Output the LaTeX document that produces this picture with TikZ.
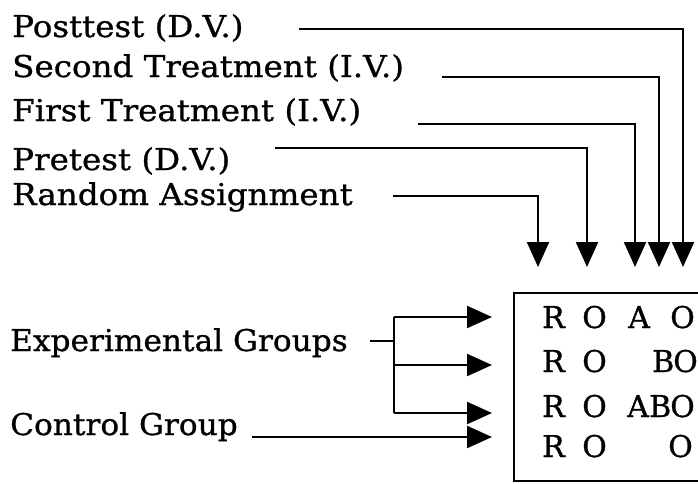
\documentclass[tikz,border=0pt]{standalone}
\usepackage{fontspec}
\setmainfont{DejaVu Serif}
\newfontfamily\lblfont[FakeStretch=1.085,FakeBold=0.9]{DejaVu Serif}
\newfontfamily\grpfont[FakeStretch=1.04,FakeBold=0.9]{DejaVu Serif}
\newfontfamily\cellfont[FakeBold=0.9]{DejaVu Serif}
\usetikzlibrary{arrows.meta}
\begin{document}
\begin{tikzpicture}[x=1pt,y=-1pt,
  lbl/.style={anchor=base west, inner sep=0pt, font=\lblfont\fontsize{30}{36}\selectfont},
  grp/.style={anchor=base west, inner sep=0pt, font=\grpfont\fontsize{30}{36}\selectfont},
  cell/.style={anchor=base west, inner sep=0pt, font=\cellfont\fontsize{30}{36}\selectfont},
  conn/.style={line width=2.2pt, line join=miter},
  tip/.style={-{Triangle[length=25pt,width=22pt]}}]
\useasboundingbox (0,0) rectangle (698,483);
\fill[white] (0,0) rectangle (698,483);
\clip (0,0) rectangle (698,483);

% variable labels
\node[lbl] (post)   at (12,37)  {Posttest (D.V.)};
\node[lbl] (second) at (12,77)  {Second Treatment (I.V.)};
\node[lbl] (first)  at (12,121) {First Treatment (I.V.)};
\node[lbl] (pre)    at (12,170) {Pretest (D.V.)};
\node[lbl] (rand)   at (12,205) {Random Assignment};

% group labels
\node[grp] (exp)  at (10,351) {Experimental Groups};
\node[grp] (ctrl) at (10,435) {Control Group};

% leader starts and arrow tips
\coordinate (postS)   at (299,29);
\coordinate (secondS) at (442,77);
\coordinate (firstS)  at (418,124);
\coordinate (preS)    at (275,148);
\coordinate (randS)   at (393,196);
\coordinate (randT)   at (538,267);
\coordinate (preT)    at (587,267);
\coordinate (firstT)  at (635,267);
\coordinate (secondT) at (659,267);
\coordinate (postT)   at (683,267);

\draw[conn,tip] (postS)   -| (postT);
\draw[conn,tip] (secondS) -| (secondT);
\draw[conn,tip] (firstS)  -| (firstT);
\draw[conn,tip] (preS)    -| (preT);
\draw[conn,tip] (randS)   -| (randT);

% group arrows
\coordinate (expS) at (370,341);
\coordinate (fork) at (394,341);
\coordinate (e1) at (492,317);
\coordinate (e2) at (492,365);
\coordinate (e3) at (492,413);
\coordinate (ctrlS) at (252,437);
\coordinate (c1) at (492,437);

\draw[conn] (expS) -- (fork);
\draw[conn] (fork |- e1) -- (fork |- e3);
\draw[conn,tip] (fork |- e1) -- (e1);
\draw[conn,tip] (fork |- e2) -- (e2);
\draw[conn,tip] (fork |- e3) -- (e3);
\draw[conn,tip] (ctrlS) -- (c1);

% design box
\draw[conn] (720,293) -- (514,293) -- (514,481) -- (720,481);

% design notation
\node[cell] (r1R) at (542,328) {R};
\node[cell] (r1O) at (582,328) {O};
\node[cell] (r1A) at (628,328) {A};
\node[cell] (r1P) at (670,328) {O};
\node[cell] (r2R) at (542,372) {R};
\node[cell] (r2O) at (582,372) {O};
\node[cell] (r2B) at (652,372) {B};
\node[cell] (r2P) at (673,372) {O};
\node[cell] (r3R) at (542,417) {R};
\node[cell] (r3O) at (582,417) {O};
\node[cell] (r3A) at (627,417) {A};
\node[cell] (r3B) at (649,417) {B};
\node[cell] (r3P) at (670,417) {O};
\node[cell] (r4R) at (542,457) {R};
\node[cell] (r4O) at (582,457) {O};
\node[cell] (r4P) at (668,457) {O};
\end{tikzpicture}
\end{document}
